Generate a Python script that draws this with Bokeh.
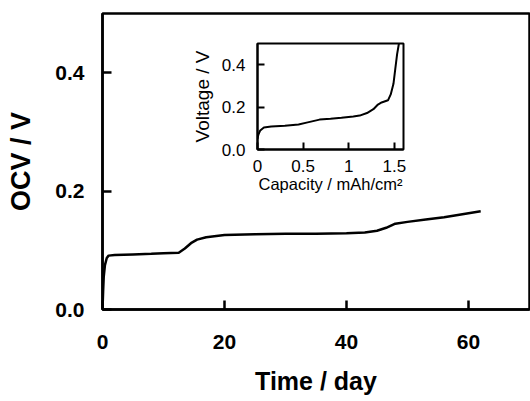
from bokeh.plotting import figure
from bokeh.models import Range1d, FixedTicker, PrintfTickFormatter
from bokeh.embed import file_html
from bokeh.resources import INLINE

# ---- main data: open-circuit voltage vs time ----
days = [0, 0.1, 0.2, 0.4, 0.7, 1.0, 2, 5, 8, 10, 12.5, 13.5, 14.5, 15.5, 17,
        20, 25, 30, 35, 40, 43, 45, 46.5, 48, 50, 53, 56, 59, 62]
ocv = [0, 0.03, 0.055, 0.075, 0.087, 0.091, 0.092, 0.093, 0.094, 0.095, 0.096,
       0.103, 0.112, 0.118, 0.122, 0.126, 0.127, 0.128, 0.128, 0.129, 0.130,
       0.133, 0.138, 0.145, 0.148, 0.152, 0.156, 0.161, 0.166]
main_x_ticks = [0, 20, 40, 60]
main_y_ticks = [0.0, 0.2, 0.4]

# ---- inset data: voltage vs capacity ----
capacity = [0, 0.01, 0.03, 0.07, 0.15, 0.3, 0.45, 0.55, 0.68, 0.8, 0.92, 1.05,
            1.12, 1.2, 1.27, 1.32, 1.36, 1.43, 1.46, 1.49, 1.51, 1.53, 1.55]
voltage = [0.05, 0.07, 0.09, 0.104, 0.108, 0.112, 0.118, 0.128, 0.141, 0.145,
           0.150, 0.156, 0.160, 0.172, 0.19, 0.212, 0.222, 0.232, 0.26, 0.31,
           0.38, 0.45, 0.5]
inset_x_ticks = [0, 0.5, 1, 1.5]
inset_x_tick_labels = ["0", "0.5", "1", "1.5"]
inset_y_ticks = [0.0, 0.2, 0.4]

FONT = "Liberation Sans"

p = figure(width=530, height=401, output_backend="svg", toolbar_location=None,
           x_range=Range1d(0, 70), y_range=Range1d(0, 0.5),
           min_border_left=102, min_border_right=1, min_border_top=13,
           min_border_bottom=92,
           styles={"position": "absolute", "left": "0px", "top": "0px"})
p.frame_width = 427
p.frame_height = 296
p.grid.visible = False
p.outline_line_color = "black"
p.outline_line_width = 2.5
p.background_fill_color = "white"
p.border_fill_color = "white"

p.line(days, ocv, line_color="black", line_width=2.5)

for ax in (p.xaxis[0], p.yaxis[0]):
    ax.axis_line_width = 2.5
    ax.axis_line_color = "black"
    ax.major_tick_in = 9
    ax.major_tick_out = 0
    ax.major_tick_line_width = 2.5
    ax.major_tick_line_color = "black"
    ax.minor_tick_line_color = None
    ax.major_label_text_font = FONT
    ax.major_label_text_font_style = "bold"
    ax.major_label_text_font_size = "21px"
    ax.major_label_text_color = "black"
    ax.axis_label_text_font = FONT
    ax.axis_label_text_font_style = "bold"
    ax.axis_label_text_color = "black"

p.xaxis.ticker = FixedTicker(ticks=main_x_ticks)
p.yaxis.ticker = FixedTicker(ticks=main_y_ticks)
p.yaxis.formatter = PrintfTickFormatter(format="%.1f")
p.xaxis.axis_label = "Time / day"
p.yaxis.axis_label = "OCV / V"
p.xaxis.axis_label_text_font_size = "25px"
p.yaxis.axis_label_text_font_size = "27px"
p.xaxis.major_label_standoff = 25
p.yaxis.major_label_standoff = 18
p.xaxis.axis_label_standoff = 15
p.yaxis.axis_label_standoff = 16

# ---- inset ----
inset = figure(width=238, height=163, output_backend="svg", toolbar_location=None,
               x_range=Range1d(0, 1.6), y_range=Range1d(0, 0.5),
               min_border_left=68, min_border_right=24, min_border_top=2,
               min_border_bottom=55,
               styles={"position": "absolute", "left": "188px", "top": "41px"})
inset.frame_width = 146
inset.frame_height = 106
inset.grid.visible = False
inset.outline_line_color = "black"
inset.outline_line_width = 2
inset.background_fill_alpha = 0
inset.border_fill_alpha = 0

inset.line(capacity, voltage, line_color="black", line_width=2)

for ax in (inset.xaxis[0], inset.yaxis[0]):
    ax.axis_line_width = 2
    ax.axis_line_color = "black"
    ax.major_tick_in = 7
    ax.major_tick_out = 0
    ax.major_tick_line_width = 2
    ax.major_tick_line_color = "black"
    ax.minor_tick_line_color = None
    ax.major_label_text_font = FONT
    ax.major_label_text_font_size = "17px"
    ax.major_label_text_color = "black"
    ax.axis_label_text_font = FONT
    ax.axis_label_text_font_style = "normal"
    ax.axis_label_text_color = "black"

inset.xaxis.ticker = FixedTicker(ticks=inset_x_ticks)
inset.xaxis.major_label_overrides = {t: s for t, s in zip(inset_x_ticks, inset_x_tick_labels)}
inset.yaxis.ticker = FixedTicker(ticks=inset_y_ticks)
inset.yaxis.formatter = PrintfTickFormatter(format="%.1f")
inset.xaxis.axis_label = "Capacity / mAh/cm\u00b2"
inset.yaxis.axis_label = "Voltage / V"
inset.xaxis.axis_label_text_font_size = "16.5px"
inset.yaxis.axis_label_text_font_size = "19px"
inset.xaxis.major_label_standoff = 10
inset.yaxis.major_label_standoff = 12
inset.xaxis.axis_label_standoff = 0
inset.yaxis.axis_label_standoff = 6

open("out.html", "w").write(file_html([p, inset], INLINE))
